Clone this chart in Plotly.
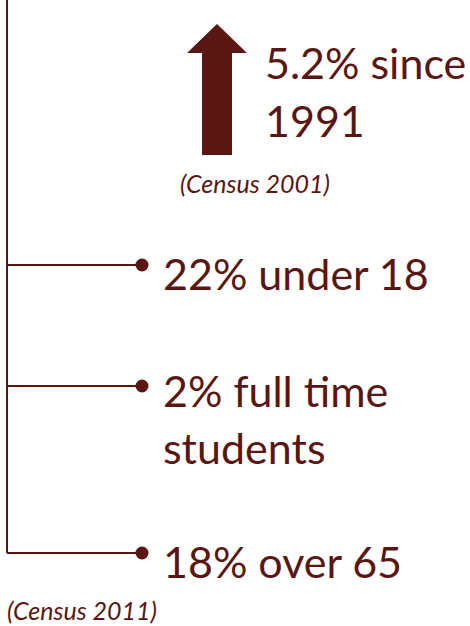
import plotly.graph_objects as go

COLOR = "#5a1612"
FONT = "Lato"

# data
headline_lines = ["5.2% since", "1991"]
headline_source = "(Census 2001)"
stat_lines = [["22% under 18"], ["2% full time", "students"], ["18% over 65"]]
stat_source = "(Census 2011)"

# layout positions (pixels, y down)
W, H = 470, 626
trunk_x = 7
branch_y = [265, 386, 553]
dot_x = 142
text_x = 161
line_gap = 57

fig = go.Figure()

# trunk
fig.add_trace(go.Scatter(x=[trunk_x, trunk_x], y=[0, branch_y[-1]], mode="lines",
                         line=dict(color=COLOR, width=2), hoverinfo="skip", showlegend=False))
# branches
for by in branch_y:
    fig.add_trace(go.Scatter(x=[trunk_x, dot_x], y=[by, by], mode="lines",
                             line=dict(color=COLOR, width=2), hoverinfo="skip", showlegend=False))
fig.add_trace(go.Scatter(x=[dot_x] * len(branch_y), y=branch_y, mode="markers",
                         marker=dict(color=COLOR, size=13), hoverinfo="skip", showlegend=False))

# arrow
ax = [202, 202, 187, 217, 247, 232, 232, 202]
ay = [155, 53, 53, 24, 53, 53, 155, 155]
fig.add_trace(go.Scatter(x=ax, y=ay, mode="lines", fill="toself", fillcolor=COLOR,
                         line=dict(color=COLOR, width=0), hoverinfo="skip", showlegend=False))

annotations = []
# headline text
for i, t in enumerate(headline_lines):
    annotations.append(dict(x=263, y=62 + i * 58, text=t, xanchor="left", yanchor="middle",
                            showarrow=False, font=dict(family=FONT, size=43, color=COLOR)))
annotations.append(dict(x=178, y=183, text="<i>" + headline_source + "</i>", xanchor="left",
                        yanchor="middle", showarrow=False,
                        font=dict(family=FONT, size=25, color=COLOR)))
# stats
cap_mid = [273, 390, 561]
for lines, cm in zip(stat_lines, cap_mid):
    for j, t in enumerate(lines):
        annotations.append(dict(x=text_x, y=cm + j * line_gap, text=t, xanchor="left",
                                yanchor="middle", showarrow=False,
                                font=dict(family=FONT, size=43, color=COLOR)))
annotations.append(dict(x=5, y=610, text="<i>" + stat_source + "</i>", xanchor="left",
                        yanchor="middle", showarrow=False,
                        font=dict(family=FONT, size=25, color=COLOR)))

fig.update_layout(
    width=W, height=H, margin=dict(l=0, r=0, t=0, b=0),
    paper_bgcolor="white", plot_bgcolor="white",
    xaxis=dict(range=[0, W], visible=False, fixedrange=True),
    yaxis=dict(range=[H, 0], visible=False, fixedrange=True),
    annotations=annotations,
)
for a in fig.layout.annotations:
    a.update(xref="x", yref="y")

fig.write_html("out.html", config={"displayModeBar": False},
               post_script="document.body.style.margin='0';document.body.style.overflow='hidden';")
